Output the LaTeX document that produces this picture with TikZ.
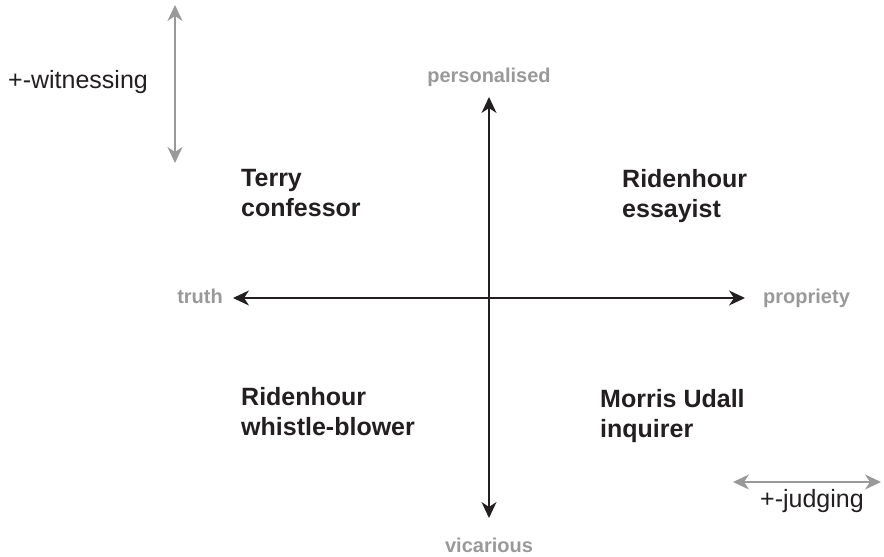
\documentclass[tikz,border=0pt]{standalone}
\usepackage{fontspec}
\setmainfont{Liberation Sans}
\usetikzlibrary{arrows.meta,positioning}

\definecolor{axisgray}{HTML}{999999}
\definecolor{inkblack}{HTML}{231F20}

\tikzset{
  axisline/.style={draw=inkblack, line width=1.5pt, <->},
  scalearrow/.style={draw=axisgray, line width=2pt, <->},
  pole/.style={inner sep=0pt, text=axisgray, text height=15pt, text depth=4pt,
    font=\bfseries\fontsize{20}{24}\selectfont},
  quad/.style={inner sep=0pt, anchor=north west, align=left, text=inkblack,
    font=\bfseries\fontsize{25}{30}\selectfont},
  scalelabel/.style={inner sep=0pt, anchor=base west, text=inkblack,
    font=\fontsize{25}{30}\selectfont},
}

\begin{document}
\begin{tikzpicture}[x=1pt,y=-1pt, >={Stealth[length=16pt,width=15pt,inset=5pt]}]
  \useasboundingbox (0,0) rectangle (884,557);

  % Axis ends
  \coordinate (c) at (489,298);
  \coordinate (n) at (489,97);
  \coordinate (s) at (489,518);
  \coordinate (w) at (233,298);
  \coordinate (e) at (745,298);

  % Axes
  \draw[axisline] (s) -- (n);
  \draw[axisline] (w) -- (e);

  % Axis labels
  \node[pole, above=10pt of n] (personalised) {personalised};
  \node[pole, below=19pt of s] (vicarious)    {vicarious};
  \node[pole, left=10pt of w]  (truth)        {truth};
  \node[pole, right=18pt of e] (propriety)    {propriety};

  % Quadrants
  \node[quad] (terry)   at (241,169) {Terry\\confessor};
  \node[quad] (essay)   at (622,169) {Ridenhour\\essayist};
  \node[quad] (whistle) at (241,387) {Ridenhour\\whistle-blower};
  \node[quad] (udall)   at (600,389) {Morris Udall\\inquirer};

  % Scales
  \coordinate (wtop) at (175,5);
  \coordinate (wbot) at (175,163);
  \draw[scalearrow] (wtop) -- (wbot);
  \node[scalelabel] (witness) at (8,88) {+-witnessing};

  \coordinate (jleft)  at (733,482);
  \coordinate (jright) at (881,482);
  \draw[scalearrow] (jleft) -- (jright);
  \node[scalelabel] (judge) at (760,507) {+-judging};

\end{tikzpicture}
\end{document}
